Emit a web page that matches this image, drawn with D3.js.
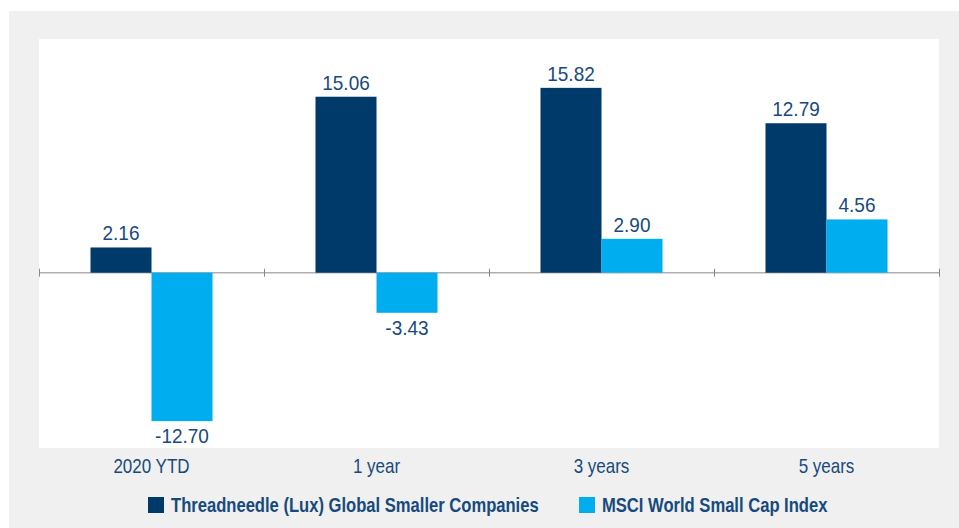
<!DOCTYPE html>
<html>
<head>
<meta charset="utf-8">
<script src="https://cdn.jsdelivr.net/npm/d3@7"></script>
<style>
  body { margin: 0; background: #fff; }
  svg text { font-family: "Liberation Sans", Arial, sans-serif; }
</style>
</head>
<body>
<svg id="chart" width="959" height="528"></svg>
<script>
const categories = ["2020 YTD", "1 year", "3 years", "5 years"];
const seriesNames = ["Threadneedle (Lux) Global Smaller Companies", "MSCI World Small Cap Index"];
const fundValues = [2.16, 15.06, 15.82, 12.79];
const indexValues = [-12.70, -3.43, 2.90, 4.56];
const colors = ["#003a6b", "#00aeef"];
const textColor = "#174a7c";

const svg = d3.select("#chart");

// grey panel + white plot area
svg.append("rect").attr("x", 9).attr("y", 11).attr("width", 950).attr("height", 517).attr("fill", "#f0f0f0");

const plot = {left: 39, right: 939, top: 39, bottom: 448};
svg.append("rect")
    .attr("x", plot.left).attr("y", plot.top)
    .attr("width", plot.right - plot.left).attr("height", plot.bottom - plot.top)
    .attr("fill", "#fff");

const x0 = d3.scaleBand().domain(categories).range([plot.left, plot.right]);
const x1 = d3.scaleBand().domain([0, 1]).range([0, x0.bandwidth()]).paddingInner(0).paddingOuter(0.844);
const y = d3.scaleLinear().domain([-15, 20]).range([plot.bottom, plot.top]);

const rows = categories.map((c, i) => ({cat: c, vals: [fundValues[i], indexValues[i]]}));
const fmt = v => d3.format(".2f")(v).replace("\u2212", "-");

// condensed look: squeeze text horizontally
const squeeze = (x, yy, s) => `translate(${x},${yy}) scale(${s},1)`;

// zero axis with ticks at band edges
const axis = svg.append("g").attr("transform", `translate(0,${y(0)})`);
axis.append("line").attr("x1", plot.left).attr("x2", plot.right).attr("stroke", "#b0b0b0").attr("stroke-width", 1.5);
const edges = categories.map(c => x0(c)).concat([plot.right]);
axis.selectAll("line.tick").data(edges).join("line")
    .attr("class", "tick")
    .attr("x1", d => d + 0.5).attr("x2", d => d + 0.5)
    .attr("y1", -4).attr("y2", 4)
    .attr("stroke", "#888").attr("stroke-width", 1);

const groups = svg.selectAll("g.grp").data(rows).join("g")
    .attr("class", "grp")
    .attr("transform", d => `translate(${x0(d.cat)},0)`);

groups.selectAll("rect").data(d => d.vals.map((v, k) => ({v, k}))).join("rect")
    .attr("x", d => x1(d.k))
    .attr("width", x1.bandwidth())
    .attr("y", d => y(Math.max(0, d.v)))
    .attr("height", d => Math.abs(y(d.v) - y(0)))
    .attr("fill", d => colors[d.k]);

groups.selectAll("text.val").data(d => d.vals.map((v, k) => ({v, k}))).join("text")
    .attr("class", "val")
    .attr("transform", d => squeeze(x1(d.k) + x1.bandwidth() / 2, d.v >= 0 ? y(d.v) - 7 : y(d.v) + 22, 0.95))
    .attr("text-anchor", "middle")
    .attr("font-size", 20)
    .attr("fill", textColor)
    .text(d => fmt(d.v));

// category labels
svg.selectAll("text.cat").data(categories).join("text")
    .attr("class", "cat")
    .attr("transform", d => squeeze(x0(d) + x0.bandwidth() / 2, 473, 0.85))
    .attr("text-anchor", "middle")
    .attr("font-size", 20)
    .attr("fill", textColor)
    .text(d => d);

// legend
const legendX = [148, 579];
const lg = svg.selectAll("g.leg").data(seriesNames).join("g")
    .attr("class", "leg")
    .attr("transform", (d, i) => `translate(${legendX[i]},497)`);
lg.append("rect").attr("width", 16).attr("height", 16).attr("fill", (d, i) => colors[i]);
lg.append("text")
    .attr("transform", squeeze(23, 15, 0.83))
    .attr("font-size", 20)
    .attr("font-weight", "bold")
    .attr("fill", textColor)
    .text(d => d);
</script>
</body>
</html>
